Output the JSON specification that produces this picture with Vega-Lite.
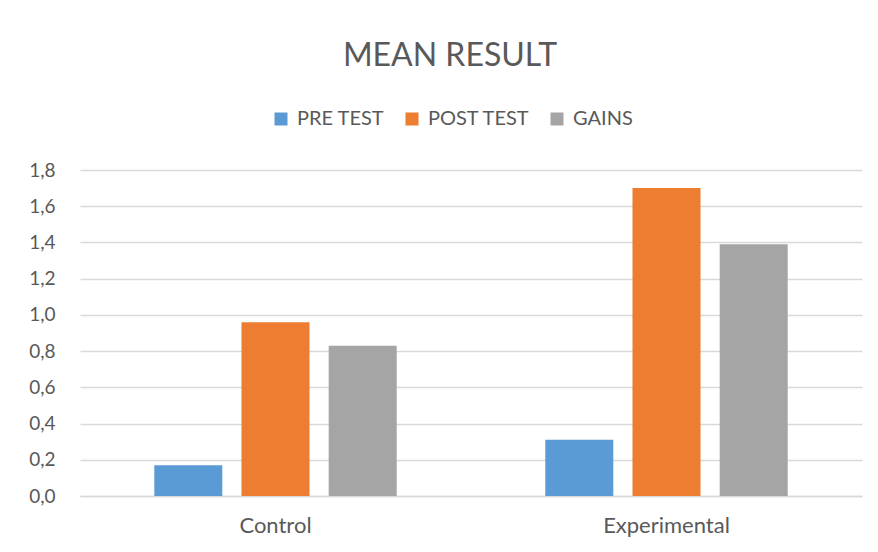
{
  "$schema": "https://vega.github.io/schema/vega-lite/v6.json",
  "width": 782,
  "height": 326,
  "autosize": {"type": "none"},
  "padding": {"left": 80, "top": 170, "right": 16, "bottom": 56},
  "background": "white",
  "title": {
    "text": "MEAN RESULT",
    "font": "Lato",
    "fontSize": 32,
    "fontWeight": "normal",
    "color": "#595959",
    "anchor": "middle",
    "dx": -21,
    "offset": 36
  },
  "data": {
    "values": [
      {"group": "Control", "measure": "PRE TEST", "value": 0.17},
      {"group": "Control", "measure": "POST TEST", "value": 0.96},
      {"group": "Control", "measure": "GAINS", "value": 0.83},
      {"group": "Experimental", "measure": "PRE TEST", "value": 0.31},
      {"group": "Experimental", "measure": "POST TEST", "value": 1.7},
      {"group": "Experimental", "measure": "GAINS", "value": 1.39}
    ]
  },
  "mark": {"type": "bar"},
  "encoding": {
    "x": {
      "field": "group",
      "type": "nominal",
      "sort": ["Control", "Experimental"],
      "scale": {"paddingInner": 0.38, "paddingOuter": 0.19},
      "axis": {
        "title": null,
        "labelAngle": 0,
        "labelFont": "Lato",
        "labelFontSize": 22,
        "labelColor": "#595959",
        "ticks": false,
        "domainColor": "#d9d9d9",
        "domainWidth": 1.5,
        "labelPadding": 19,
        "grid": false
      }
    },
    "xOffset": {
      "field": "measure",
      "type": "nominal",
      "sort": ["PRE TEST", "POST TEST", "GAINS"],
      "scale": {"paddingInner": 0.22, "paddingOuter": 0}
    },
    "y": {
      "field": "value",
      "type": "quantitative",
      "scale": {"domain": [0, 1.8], "nice": false},
      "axis": {
        "title": null,
        "values": [0, 0.2, 0.4, 0.6, 0.8, 1.0, 1.2, 1.4, 1.6, 1.8],
        "labelExpr": "replace(format(datum.value, '.1f'), '.', ',')",
        "labelFont": "Lato",
        "labelFontSize": 19,
        "labelColor": "#595959",
        "labelPadding": 25,
        "domain": false,
        "ticks": false,
        "gridColor": "#d9d9d9",
        "gridWidth": 1.5
      }
    },
    "color": {
      "field": "measure",
      "type": "nominal",
      "sort": ["PRE TEST", "POST TEST", "GAINS"],
      "scale": {
        "domain": ["PRE TEST", "POST TEST", "GAINS"],
        "range": ["#5B9BD5", "#ED7D31", "#A5A5A5"]
      },
      "legend": {
        "title": null,
        "orient": "none",
        "direction": "horizontal",
        "legendX": 191,
        "legendY": -61,
        "symbolType": "square",
        "symbolSize": 169,
        "symbolStrokeWidth": 0,
        "labelFont": "Lato",
        "labelFontSize": 20,
        "labelColor": "#595959",
        "labelOffset": 6,
        "columnPadding": 17
      }
    }
  },
  "config": {"view": {"stroke": null}}
}
